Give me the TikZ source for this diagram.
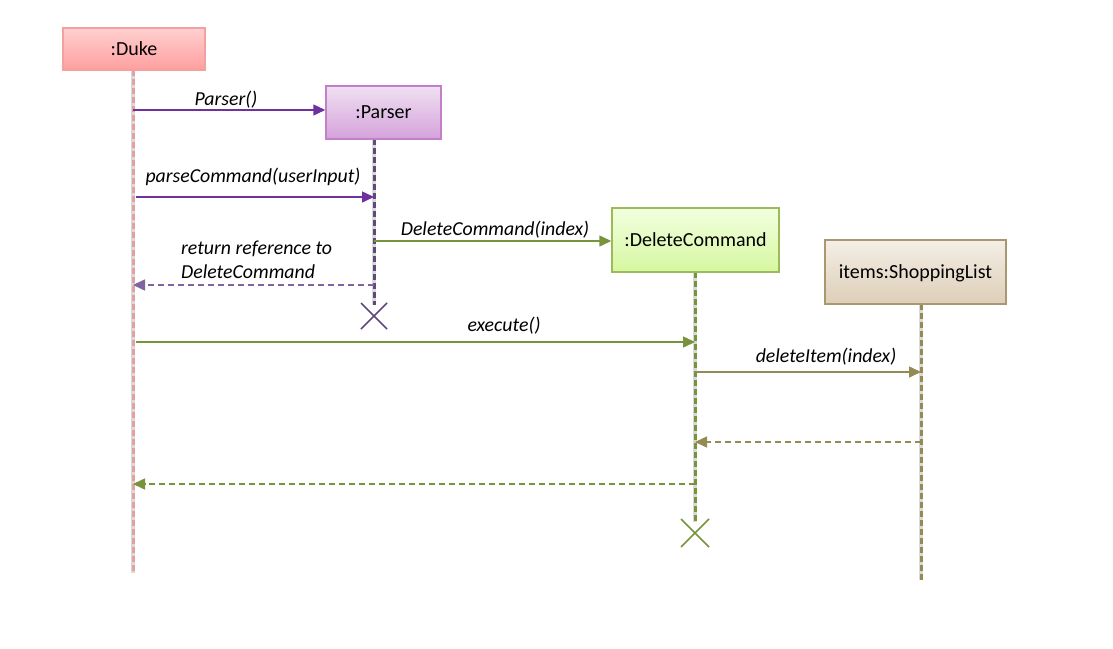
\documentclass[tikz,border=0pt]{standalone}
\usepackage{fontspec}
\setmainfont{Carlito}
\usetikzlibrary{arrows.meta,calc}
\definecolor{dukeB}{HTML}{F2A0A0}
\definecolor{dukeT}{HTML}{FFD0D0}
\definecolor{dukeBo}{HTML}{FF9E9E}
\definecolor{parB}{HTML}{C47FCB}
\definecolor{parT}{HTML}{F0E0F2}
\definecolor{parBo}{HTML}{D4A2DA}
\definecolor{delB}{HTML}{9BBB59}
\definecolor{delT}{HTML}{F2FFE0}
\definecolor{delBo}{HTML}{D6F7A0}
\definecolor{shB}{HTML}{A89770}
\definecolor{shT}{HTML}{F4EEE6}
\definecolor{shBo}{HTML}{DDCFB8}
\definecolor{purp}{HTML}{7030A0}
\definecolor{purpd}{HTML}{8064A2}
\definecolor{grn}{HTML}{77933C}
\definecolor{olv}{HTML}{948A54}
\definecolor{dukeL}{HTML}{E4A0A0}
\definecolor{parL}{HTML}{604A7B}
\definecolor{delL}{HTML}{77933C}
\definecolor{shL}{HTML}{948A54}
\tikzset{
  obj/.style={draw=#1B, line width=1.5pt, top color=#1T, bottom color=#1Bo, inner sep=0pt, font=\fontsize{20}{24}\selectfont, text depth=1pt},
  life/.style={draw=#1, line width=3pt, dash pattern=on 6pt off 3pt},
  lifebg/.style={draw=black!15, line width=4.5pt},
  msg/.style={draw=#1, line width=1.5pt, -{Triangle[length=12pt,width=11pt]}},
  ret/.style={draw=#1, line width=1.5pt, dash pattern=on 6pt off 4pt, -{Triangle[length=12pt,width=11pt]}},
  lbl/.style={font=\fontsize{19.8}{23}\selectfont\itshape, inner sep=0pt},
  xmark/.style={draw=#1, line width=1.5pt}
}
\begin{document}
\begin{tikzpicture}[x=1pt,y=-1pt]
\useasboundingbox[fill=white] (0,0) rectangle (1113,648);
% lifelines
\coordinate (dukeE) at (133,573);
\coordinate (parE) at (374,305);
\coordinate (delE) at (695,522);
\coordinate (shE) at (921,580);
\draw[lifebg] (133,70) -- (dukeE);
\draw[life=dukeL] (133,70) -- (dukeE);
\draw[lifebg] (374,139) -- (parE);
\draw[life=parL] (374,139) -- (parE);
\draw[lifebg] (695,272) -- (delE);
\draw[life=delL] (695,272) -- (delE);
\draw[lifebg] (921,304) -- (shE);
\draw[life=shL] (921,304) -- (shE);
% objects
\node[obj=duke, minimum width=142pt, minimum height=42pt] (duke) at (134,49) {:Duke};
\node[obj=par, minimum width=115pt, minimum height=53pt] (parser) at (383.5,112.5) {:Parser};
\node[obj=del, minimum width=167pt, minimum height=64pt] (del) at (695.5,240) {:DeleteCommand};
\node[obj=sh, minimum width=181pt, minimum height=64pt] (sh) at (915.5,272) {items:ShoppingList};
% anchor coordinates
\coordinate (d1) at (133,110);
\coordinate (d2) at (136,197);
\coordinate (p2) at (374,197);
\coordinate (p3) at (374,241);
\coordinate (p4) at (374,285);
\coordinate (d4) at (133,285);
\coordinate (d5) at (136,342);
\coordinate (c5) at (695,342);
\coordinate (c6) at (695,372);
\coordinate (s6) at (921,372);
\coordinate (s7) at (921,442);
\coordinate (c7) at (695,442);
\coordinate (c8) at (695,484);
\coordinate (d8) at (133,484);
% messages
\draw[msg=purp] (d1) -- (parser.west |- d1);
\node[lbl] (l1) at (226,100) {Parser()};
\draw[msg=purp] (d2) -- (p2);
\node[lbl] (l2) at (253,177) {parseCommand(userInput)};
\draw[msg=grn] (p3) -- (del.west |- p3);
\node[lbl] (l3) at (495,230) {DeleteCommand(index)};
\draw[ret=purpd] (p4) -- (d4);
\node[lbl, anchor=west] (l4a) at (181,249) {return reference to};
\node[lbl, anchor=west] (l4b) at (181,272) {DeleteCommand};
\draw[msg=grn] (d5) -- (c5);
\node[lbl] (l5) at (504,326) {execute()};
\draw[msg=olv] (c6) -- (s6);
\node[lbl] (l6) at (826,357) {deleteItem(index)};
\draw[ret=olv] (s7) -- (c7);
\draw[ret=grn] (c8) -- (d8);
% destruction marks
\coordinate (xp) at (374,316);
\draw[xmark=parL] ($(xp)+(-13,-13)$) -- ($(xp)+(13,13)$) ($(xp)+(-13,13)$) -- ($(xp)+(13,-13)$);
\coordinate (xd) at (695,533);
\draw[xmark=delL] ($(xd)+(-14,-14)$) -- ($(xd)+(14,14)$) ($(xd)+(-14,14)$) -- ($(xd)+(14,-14)$);
\end{tikzpicture}
\end{document}
